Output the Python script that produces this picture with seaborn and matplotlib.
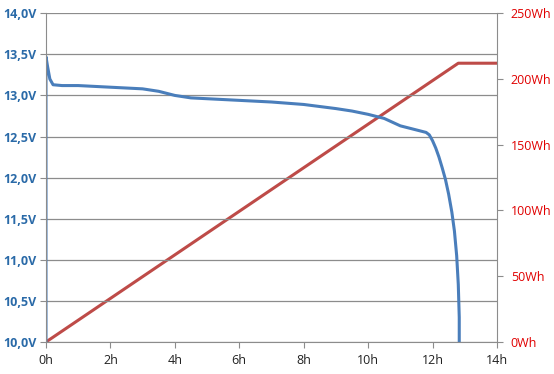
import matplotlib
matplotlib.use("Agg")
import matplotlib.pyplot as plt
import seaborn as sns
import pandas as pd

# Data
time_h = [0, 0, 0.05, 0.12, 0.22, 0.5, 1, 2, 3, 3.5, 4, 4.5, 5, 6, 7, 8, 9, 9.5, 10,
          10.5, 11, 11.5, 11.8, 11.9, 12.0, 12.1, 12.2, 12.3, 12.4, 12.5, 12.6, 12.68,
          12.75, 12.8, 12.83, 12.83]
voltage = [10.0, 13.47, 13.35, 13.2, 13.13, 13.12, 13.12, 13.10, 13.08, 13.05, 13.00, 12.97,
           12.96, 12.94, 12.92, 12.89, 12.84, 12.81, 12.77, 12.72, 12.63, 12.58, 12.55, 12.52,
           12.45, 12.36, 12.25, 12.12, 11.98, 11.8, 11.58, 11.35, 11.05, 10.7, 10.3, 10.0]
energy_time_h = [0, 12.8, 14]
energy_wh = [0, 212, 212]

x_ticks = [0, 2, 4, 6, 8, 10, 12, 14]
x_labels = ["0h", "2h", "4h", "6h", "8h", "10h", "12h", "14h"]
v_ticks = [10.0, 10.5, 11.0, 11.5, 12.0, 12.5, 13.0, 13.5, 14.0]
v_labels = ["10,0V", "10,5V", "11,0V", "11,5V", "12,0V", "12,5V", "13,0V", "13,5V", "14,0V"]
e_ticks = [0, 50, 100, 150, 200, 250]
e_labels = ["0Wh", "50Wh", "100Wh", "150Wh", "200Wh", "250Wh"]

sns.set_style("white")
plt.rcParams['font.family'] = ['Open Sans', 'DejaVu Sans']

blue = "#4A7EBB"
red = "#BE4B48"
grid = "#8C8C8C"

fig = plt.figure(figsize=(5.54, 3.74), dpi=100)
ax = fig.add_axes([0.083, 0.0856, 0.814, 0.879])
ax2 = ax.twinx()

df_v = pd.DataFrame({"t": time_h, "v": voltage})
df_e = pd.DataFrame({"t": energy_time_h, "e": energy_wh})

sns.lineplot(data=df_e, x="t", y="e", ax=ax2, color=red, linewidth=2.2,
             estimator=None, sort=False)
sns.lineplot(data=df_v, x="t", y="v", ax=ax, color=blue, linewidth=2.2,
             estimator=None, sort=False)

ax.set_zorder(ax2.get_zorder() + 1)
ax.patch.set_visible(False)

ax.set_xlim(0, 14)
ax.set_ylim(10, 14)
ax2.set_ylim(0, 250)

ax.set_xticks(x_ticks)
ax.set_xticklabels(x_labels, fontsize=9, color="#222222")
ax.set_yticks(v_ticks)
ax.set_yticklabels(v_labels, fontsize=9, color="#2A6AA8", fontweight="bold")
ax2.set_yticks(e_ticks)
ax2.set_yticklabels(e_labels, fontsize=9, color="#E00000")

for a in (ax, ax2):
    a.set_xlabel("")
    a.set_ylabel("")
    for s in a.spines.values():
        s.set_visible(False)

ax.yaxis.grid(True, color=grid, linewidth=0.9)
ax.set_axisbelow(True)
ax.spines["bottom"].set_visible(True)
ax.spines["bottom"].set_color(grid)
ax.spines["left"].set_visible(True)
ax.spines["left"].set_color(grid)
ax2.spines["right"].set_visible(True)
ax2.spines["right"].set_color(grid)

ax.tick_params(axis="x", direction="out", length=4, color=grid, pad=5, bottom=True)
ax.tick_params(axis="y", direction="out", length=4, color=grid, pad=3, left=True)
ax2.tick_params(axis="y", direction="out", length=4, color=grid, pad=6, right=True)

fig.savefig("out.png", dpi=100)
